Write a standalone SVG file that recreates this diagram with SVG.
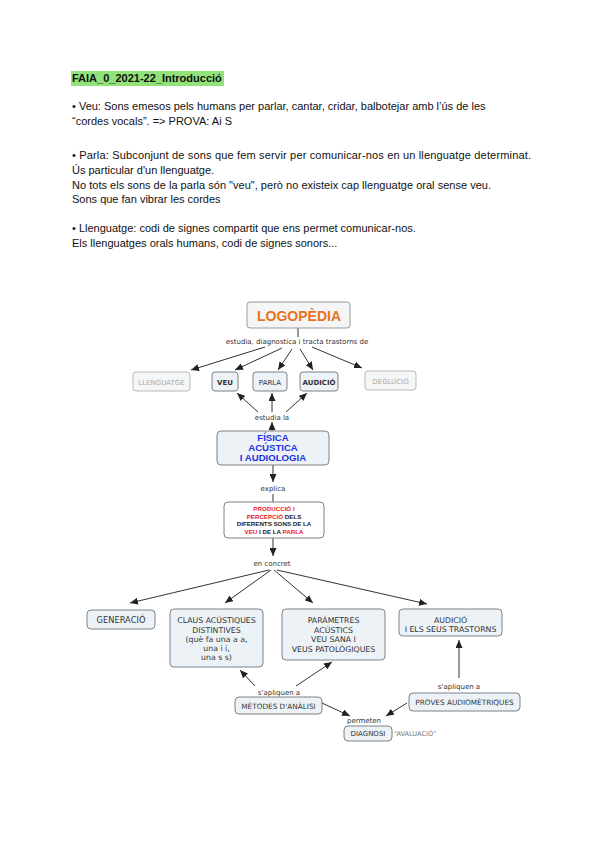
<svg xmlns="http://www.w3.org/2000/svg" width="600" height="848" viewBox="0 0 600 848">
<style>
.doc{font-family:"Liberation Sans",Arial,sans-serif;font-size:11px;fill:#111}
.box{fill:#edf2f6;stroke:#7d8287;stroke-width:1}
.boxl{fill:#f4f6f8;stroke:#b5b9bd;stroke-width:1}
.c{font-family:"DejaVu Sans",Verdana,sans-serif;text-anchor:middle;fill:#333}
.lbl{font-family:"DejaVu Sans",Verdana,sans-serif;text-anchor:middle;fill:#333;font-size:7px}
.ln{stroke:#333;stroke-width:1;fill:none}
.ar{stroke:#333;stroke-width:1;fill:none;marker-end:url(#ah)}
.red{fill:#ee2222}
.blue{font-family:"Liberation Sans",Arial,sans-serif;font-weight:bold;font-size:9.6px;fill:#2233e6;text-anchor:middle}
</style>
<defs>
<marker id="ah" markerUnits="userSpaceOnUse" markerWidth="8" markerHeight="7" refX="8" refY="3.5" orient="auto">
<path d="M0,0 L8,3.5 L0,7 z" fill="#222"/>
</marker>
</defs>
<rect width="600" height="848" fill="#fff"/>

<g id="header">
<rect x="71" y="71" width="153" height="15" fill="#92e27a"/>
<text class="doc" x="72" y="82" font-weight="bold">FAIA_0_2021-22_Introducció</text>
<text class="doc" x="72" y="110">• Veu: Sons emesos pels humans per parlar, cantar, cridar, balbotejar amb l’ús de les</text>
<text class="doc" x="72" y="125">“cordes vocals”. =&gt; PROVA: Ai S</text>
<text class="doc" x="72" y="159" textLength="459" lengthAdjust="spacing">• Parla: Subconjunt de sons que fem servir per comunicar-nos en un llenguatge determinat.</text>
<text class="doc" x="72" y="174">Ús particular d'un llenguatge.</text>
<text class="doc" x="72" y="189" textLength="419" lengthAdjust="spacing">No tots els sons de la parla són "veu", però no existeix cap llenguatge oral sense veu.</text>
<text class="doc" x="72" y="203">Sons que fan vibrar les cordes</text>
<text class="doc" x="72" y="232">• Llenguatge: codi de signes compartit que ens permet comunicar-nos.</text>
<text class="doc" x="72" y="247">Els llenguatges orals humans, codi de signes sonors...</text>
</g>

<g id="connectors">
<line class="ln" x1="298" y1="328" x2="298" y2="337"/>
<line class="ar" x1="265" y1="347" x2="191" y2="370"/>
<line class="ar" x1="282" y1="348" x2="235" y2="370"/>
<line class="ar" x1="292" y1="349" x2="278" y2="370"/>
<line class="ar" x1="300" y1="349" x2="313" y2="370"/>
<line class="ar" x1="312" y1="347" x2="362" y2="368"/>
<line class="ar" x1="272" y1="431" x2="272" y2="422"/>
<line class="ar" x1="258" y1="412" x2="237" y2="393"/>
<line class="ar" x1="272" y1="412" x2="272" y2="393"/>
<line class="ar" x1="286" y1="412" x2="307" y2="393"/>
<line class="ar" x1="273" y1="465" x2="273" y2="482"/>
<line class="ln" x1="273" y1="494" x2="273" y2="502"/>
<line class="ar" x1="273" y1="538" x2="273" y2="556"/>
<line class="ar" x1="269" y1="570" x2="130" y2="603"/>
<line class="ar" x1="271" y1="570" x2="225" y2="603"/>
<line class="ar" x1="274" y1="570" x2="313" y2="603"/>
<line class="ar" x1="277" y1="570" x2="427" y2="604"/>
<line class="ar" x1="255" y1="686" x2="240" y2="670"/>
<line class="ar" x1="296" y1="686" x2="332" y2="662"/>
<line class="ar" x1="322" y1="703" x2="350" y2="716"/>
<line class="ar" x1="407" y1="703" x2="386" y2="716"/>
<line class="ar" x1="459" y1="678" x2="459" y2="640"/>
</g>

<g id="logopedia">
<rect x="247" y="302" width="103" height="26" rx="3" fill="#f5f5f5" stroke="#9a9a9a"/>
<text x="299" y="321" text-anchor="middle" font-family="Liberation Sans,Arial,sans-serif" font-weight="bold" font-size="14" fill="#e8731e">LOGOPÈDIA</text>
</g>
<g id="lbl-estudia"><text class="lbl" x="297" y="344" font-size="6.2">estudia, diagnostica i tracta trastorns de</text></g>

<g id="llenguatge"><rect class="boxl" x="133" y="372" width="57" height="19" rx="3"/><text class="c" x="161.5" y="384.5" font-size="7" style="fill:#a9a9a9">LLENGUATGE</text></g>
<g id="veu"><rect class="box" x="212" y="372" width="26" height="19" rx="3"/><text class="c" x="225" y="384.5" font-size="7" font-weight="bold">VEU</text></g>
<g id="parla"><rect class="box" x="253" y="372" width="34" height="19" rx="3"/><text class="c" x="270" y="384.5" font-size="7">PARLA</text></g>
<g id="audicio"><rect class="box" x="300" y="372" width="38" height="19" rx="3"/><text class="c" x="319" y="384.5" font-size="7" font-weight="bold">AUDICIÓ</text></g>
<g id="deglucio"><rect class="boxl" x="365" y="371" width="51" height="19" rx="3"/><text class="c" x="390.5" y="383.5" font-size="7" style="fill:#a9a9a9">DEGLUCIÓ</text></g>

<g id="lbl-estudia-la"><text class="lbl" x="272" y="420">estudia la</text></g>

<g id="fisica">
<rect class="box" x="217" y="431" width="112" height="34" rx="4"/>
<text class="blue" x="273" y="441">FÍSICA</text>
<text class="blue" x="273" y="451">ACÚSTICA</text>
<text class="blue" x="273" y="461">I AUDIOLOGIA</text>
</g>

<g id="lbl-explica"><text class="lbl" x="273" y="491">explica</text></g>

<g id="produccio" font-family="Liberation Sans,Arial,sans-serif" font-weight="bold" font-size="6.2" text-anchor="middle" fill="#222">
<rect x="224" y="502" width="100" height="36" rx="4" fill="#fff" stroke="#7d8287"/>
<text x="274" y="510.5"><tspan class="red">PRODUCCIÓ I</tspan></text>
<text x="274" y="518.5"><tspan class="red">PERCEPCIÓ</tspan> DELS</text>
<text x="274" y="526">DIFERENTS SONS DE LA</text>
<text x="274" y="533.5"><tspan class="red">VEU</tspan> I DE LA <tspan class="red">PARLA</tspan></text>
</g>

<g id="lbl-concret"><text class="lbl" x="272" y="566">en concret</text></g>

<g id="generacio"><rect class="box" x="87" y="610" width="68" height="19" rx="4"/><text class="c" x="121" y="622.5" font-size="8.3">GENERACIÓ</text></g>
<g id="claus">
<rect class="box" x="170" y="609" width="93" height="58" rx="4"/>
<text class="c" x="216.5" y="622.5" font-size="7.8">CLAUS ACÚSTIQUES</text>
<text class="c" x="216.5" y="632.5" font-size="7.8">DISTINTIVES</text>
<text class="c" x="216.5" y="642" font-size="7.8">(què fa una a a,</text>
<text class="c" x="216.5" y="651" font-size="7.8">una i i,</text>
<text class="c" x="216.5" y="660" font-size="7.8">una s s)</text>
</g>
<g id="parametres">
<rect class="box" x="282" y="609" width="103" height="51" rx="4"/>
<text class="c" x="333.5" y="622.5" font-size="7.8">PARÀMETRES</text>
<text class="c" x="333.5" y="632.5" font-size="7.8">ACÚSTICS</text>
<text class="c" x="333.5" y="642" font-size="7.8">VEU SANA I</text>
<text class="c" x="333.5" y="651.5" font-size="7.8">VEUS PATOLÒGIQUES</text>
</g>
<g id="audicio-trastorns">
<rect class="box" x="399" y="609" width="103" height="27" rx="4"/>
<text class="c" x="450.5" y="622.5" font-size="7.8">AUDICIÓ</text>
<text class="c" x="450.5" y="632" font-size="7.8">I ELS SEUS TRASTORNS</text>
</g>

<g id="lbl-apliquen1"><text class="lbl" x="279" y="695">s'apliquen a</text></g>
<g id="metodes"><rect class="box" x="235" y="697" width="87" height="17" rx="4"/><text class="c" x="278.5" y="708.5" font-size="7.3">MÈTODES D'ANÀLISI</text></g>
<g id="lbl-apliquen2"><text class="lbl" x="459" y="688.5">s'apliquen a</text></g>
<g id="proves"><rect class="box" x="409" y="693" width="111" height="18" rx="4"/><text class="c" x="464.5" y="704.5" font-size="7.3">PROVES AUDIOMÈTRIQUES</text></g>
<g id="lbl-permeten"><text class="lbl" x="364" y="723" font-size="6.8">permeten</text></g>
<g id="diagnosi"><rect class="box" x="344" y="726" width="48" height="15" rx="4"/><text class="c" x="368" y="736" font-size="7">DIAGNOSI</text></g>
<g id="avaluacio"><text x="394" y="736" font-family="DejaVu Sans,Verdana,sans-serif" font-size="6.5" fill="#777">“AVALUACIÓ”</text></g>
</svg>
